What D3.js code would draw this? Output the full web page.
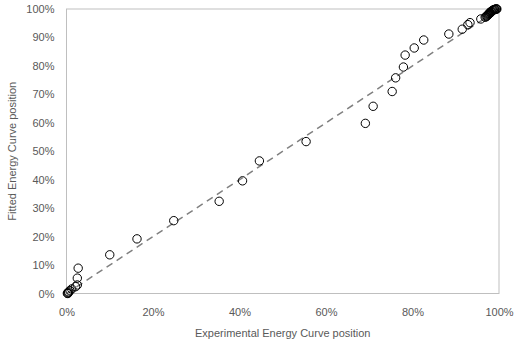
<!DOCTYPE html>
<html>
<head>
<meta charset="utf-8">
<script src="https://cdn.jsdelivr.net/npm/d3@7"></script>
<style>
  html, body { margin: 0; padding: 0; background: #fff; }
  svg { display: block; }
  text { font-family: "Liberation Sans", Arial, sans-serif; fill: #595959; }
</style>
</head>
<body>
<svg id="chart" width="516" height="344"></svg>
<script>
// Experimental vs fitted position along the energy curve (fractions 0..1)
const experimental = [
  0.002, 0.003, 0.004, 0.005, 0.008, 0.012, 0.021, 0.025, 0.025, 0.027,
  0.100, 0.163, 0.248, 0.353, 0.407, 0.446, 0.554, 0.691, 0.709, 0.753,
  0.761, 0.779, 0.783, 0.804, 0.826, 0.884, 0.915, 0.928, 0.933, 0.958,
  0.968, 0.970, 0.972, 0.973, 0.975, 0.976, 0.977, 0.978, 0.979, 0.980,
  0.981, 0.982, 0.983, 0.985, 0.986, 0.987, 0.989, 0.990, 0.991, 0.993,
  0.994, 0.995
];
const fitted = [
  0.001, 0.000, 0.003, 0.006, 0.010, 0.016, 0.024, 0.030, 0.054, 0.089,
  0.136, 0.192, 0.256, 0.324, 0.396, 0.466, 0.534, 0.598, 0.658, 0.710,
  0.758, 0.796, 0.838, 0.863, 0.891, 0.912, 0.929, 0.945, 0.952, 0.965,
  0.971, 0.973, 0.975, 0.978, 0.980, 0.982, 0.984, 0.985, 0.988, 0.986,
  0.990, 0.991, 0.993, 0.994, 0.995, 0.997, 0.998, 0.998, 0.999, 1.000,
  1.000, 1.000
];
const xTicks = [0, 0.2, 0.4, 0.6, 0.8, 1.0];
const yTicks = [0, 0.1, 0.2, 0.3, 0.4, 0.5, 0.6, 0.7, 0.8, 0.9, 1.0];
const xTitle = "Experimental Energy Curve position";
const yTitle = "Fitted Energy Curve position";

const svg = d3.select("#chart");
const m = { left: 66.5, right: 499, top: 9, bottom: 293.5 };

const x = d3.scaleLinear().domain([0, 1]).range([m.left, m.right]);
const y = d3.scaleLinear().domain([0, 1]).range([m.bottom, m.top]);
const pct = d3.format(".0%");

// plot area frame
svg.append("rect")
  .attr("x", m.left).attr("y", m.top)
  .attr("width", m.right - m.left).attr("height", m.bottom - m.top)
  .attr("fill", "none").attr("stroke", "#bfbfbf").attr("stroke-width", 1);

// axes (labels only)
const xAxis = svg.append("g")
  .attr("transform", `translate(0,${m.bottom})`)
  .call(d3.axisBottom(x).tickValues(xTicks).tickFormat(pct).tickSize(0).tickPadding(15));
const yAxis = svg.append("g")
  .attr("transform", `translate(${m.left},0)`)
  .call(d3.axisLeft(y).tickValues(yTicks).tickFormat(pct).tickSize(0).tickPadding(12));
[xAxis, yAxis].forEach(g => {
  g.select(".domain").remove();
  g.selectAll("text").style("font-size", "11px").attr("fill", "#595959")
    .style("font-family", "'Liberation Sans', Arial, sans-serif");
});

// y = x reference line
svg.append("line")
  .attr("x1", x(0)).attr("y1", y(0))
  .attr("x2", x(1)).attr("y2", y(1))
  .attr("stroke", "#808080").attr("stroke-width", 1.5)
  .attr("stroke-dasharray", "7,5");

// markers
svg.append("g").selectAll("circle")
  .data(experimental.map((v, i) => [v, fitted[i]]))
  .join("circle")
  .attr("cx", d => x(d[0])).attr("cy", d => y(d[1]))
  .attr("r", 4.2)
  .attr("fill", "none").attr("stroke", "#000").attr("stroke-width", 1);

// axis titles
svg.append("text")
  .attr("x", (m.left + m.right) / 2).attr("y", 337)
  .attr("text-anchor", "middle").style("font-size", "11px")
  .text(xTitle);
svg.append("text")
  .attr("transform", `translate(16,${(m.top + m.bottom) / 2}) rotate(-90)`)
  .attr("text-anchor", "middle").style("font-size", "11px")
  .text(yTitle);
</script>
</body>
</html>
